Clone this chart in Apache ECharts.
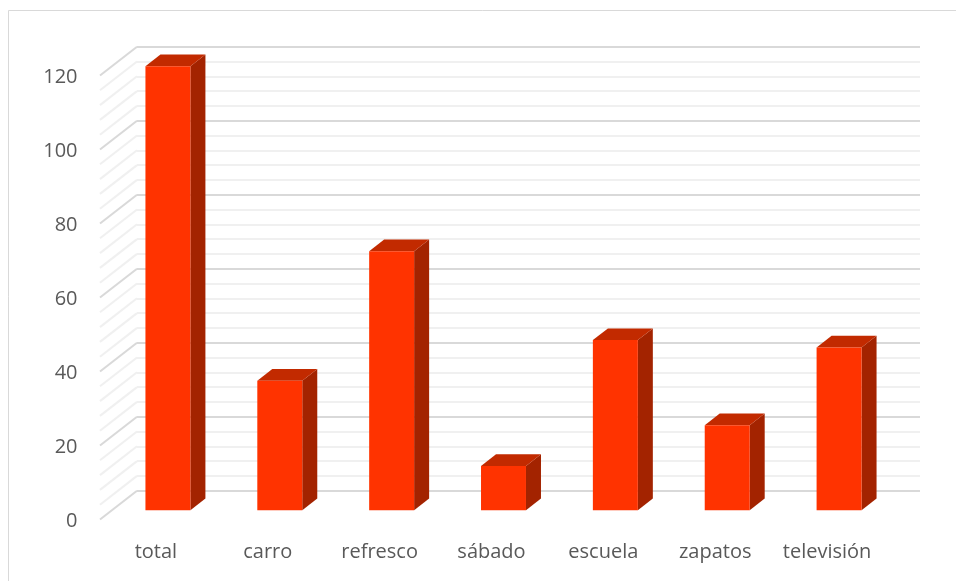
<!DOCTYPE html>
<html>
<head>
<meta charset="utf-8">
<script src="https://cdn.jsdelivr.net/npm/echarts@6/dist/echarts.min.js"></script>
<style>
html,body{margin:0;padding:0;background:#fff;}
#chart{width:956px;height:581px;}
</style>
</head>
<body>
<div id="chart"></div>
<script>
// ---- data ----
var categories = ['total', 'carro', 'refresco', 'sábado', 'escuela', 'zapatos', 'televisión'];
var values = [120, 35, 70, 12, 46, 23, 44];
var yMin = 0, yMax = 120, yMajorStep = 20, yMinorStep = 4;

// ---- style constants ----
var BACK = [25, -19.6];   // offset bar plane -> back wall
var FRONT = [-12, 9.2];   // offset bar plane -> front edge
var DEPTH = [15, -11.7];  // bar depth
var FONT = 'Open Sans';

var minorTicks = [];
for (var v = yMin; v <= yMax + 1e-9; v += yMinorStep) minorTicks.push([0, v]);

var chart = echarts.init(document.getElementById('chart'), null, {renderer: 'canvas'});

var option = {
  animation: false,
  backgroundColor: '#fff',
  graphic: [{
    type: 'rect', shape: {x: 8.5, y: 10.5, width: 1000, height: 1000},
    style: {fill: 'none', stroke: '#d9d9d9', lineWidth: 1}, silent: true, z: -10
  }],
  grid: [
    {left: 112, right: 61, top: 66.3, bottom: 70.7},
    {left: 137, right: 36, top: 46.7, bottom: 90.3},
    {left: 100, right: 73, top: 77.5, bottom: 59.5}
  ],
  xAxis: [
    {gridIndex: 0, type: 'category', data: categories, show: false},
    {gridIndex: 1, type: 'category', data: categories, show: false},
    {gridIndex: 2, type: 'category', data: categories,
      axisLine: {show: false}, axisTick: {show: false},
      axisLabel: {margin: 20.5, color: '#595959', fontSize: 20, fontFamily: FONT, interval: 0}}
  ],
  yAxis: [
    {gridIndex: 0, type: 'value', min: yMin, max: yMax, interval: yMajorStep, show: false},
    {gridIndex: 1, type: 'value', min: yMin, max: yMax, interval: yMajorStep,
      axisLine: {show: false}, axisTick: {show: false}, axisLabel: {show: false},
      splitLine: {show: true, lineStyle: {color: '#d9d9d9', width: 2}},
      minorTick: {show: false, splitNumber: yMajorStep / yMinorStep},
      minorSplitLine: {show: true, lineStyle: {color: '#f0f0f0', width: 2}}},
    {gridIndex: 2, type: 'value', min: yMin, max: yMax, interval: yMajorStep,
      axisLine: {show: false}, axisTick: {show: false}, splitLine: {show: false},
      axisLabel: {margin: 22.5, color: '#595959', fontSize: 20, fontFamily: FONT, padding: [3, 0, 0, 0]}}
  ],
  series: [
    {
      type: 'custom', xAxisIndex: 0, yAxisIndex: 0, data: minorTicks, clip: false, silent: true, z: 1,
      renderItem: function (params, api) {
        var v = api.value(1);
        var p = api.coord([0, v]);
        var x0 = params.coordSys.x;
        var major = Math.abs(v % yMajorStep) < 1e-9;
        return {
          type: 'line',
          shape: {x1: x0 + FRONT[0], y1: p[1] + FRONT[1], x2: x0 + BACK[0], y2: p[1] + BACK[1]},
          style: {stroke: major ? '#d9d9d9' : '#f0f0f0', lineWidth: 2}
        };
      }
    },
    {
      type: 'custom', xAxisIndex: 0, yAxisIndex: 0, clip: false, z: 5,
      data: values.map(function (v, i) { return [i, v]; }),
      renderItem: function (params, api) {
        var top = api.coord([api.value(0), api.value(1)]);
        var base = api.coord([api.value(0), 0]);
        var w = api.size([1, 0])[0] * 0.402;
        var xl = top[0] - w / 2, xr = top[0] + w / 2;
        var yt = top[1], yb = base[1];
        var dx = DEPTH[0], dy = DEPTH[1];
        return {
          type: 'group',
          children: [
            {type: 'polygon', shape: {points: [[xr, yt], [xr + dx, yt + dy], [xr + dx, yb + dy], [xr, yb]]},
              style: {fill: '#a32300'}},
            {type: 'polygon', shape: {points: [[xl, yt], [xl + dx, yt + dy], [xr + dx, yt + dy], [xr, yt]]},
              style: {fill: '#c22a00'}},
            {type: 'rect', shape: {x: xl, y: yt, width: w, height: yb - yt},
              style: {fill: '#ff3300'}}
          ]
        };
      }
    }
  ]
};
chart.setOption(option);
</script>
</body>
</html>
